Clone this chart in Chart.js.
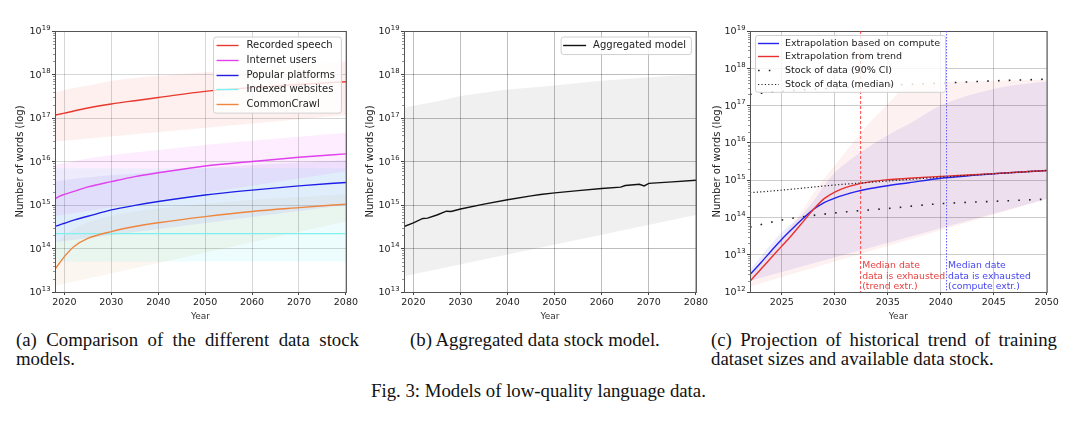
<!DOCTYPE html>
<html>
<head>
<meta charset="utf-8">
<script src="https://cdn.jsdelivr.net/npm/chart.js@4.4.1/dist/chart.umd.min.js"></script>
<style>
  body { margin: 0; width: 1080px; height: 432px; position: relative; background: #fff; overflow: hidden; }
  canvas { position: absolute; top: 0; }
  .cap { position: absolute; font-family: "Liberation Serif", "Times New Roman", serif; font-size: 18.8px; line-height: 18.5px; color: #111; white-space: nowrap; }
  .just { text-align: justify; text-align-last: justify; }
</style>
</head>
<body>
<canvas id="chartA" width="360" height="325" style="left:0"></canvas>
<canvas id="chartB" width="350" height="325" style="left:360px"></canvas>
<canvas id="chartC" width="370" height="325" style="left:710px"></canvas>

<div class="cap just" style="left:16px; top:331px; width:343px">(a) Comparison of the different data stock</div>
<div class="cap" style="left:16px; top:349.5px">models.</div>
<div class="cap" style="left:410px; top:331px">(b) Aggregated data stock model.</div>
<div class="cap just" style="left:711px; top:331px; width:346px">(c) Projection of historical trend of training</div>
<div class="cap" style="left:711px; top:349.5px">dataset sizes and available data stock.</div>
<div class="cap" style="left:371px; top:382px">Fig. 3: Models of low-quality language data.</div>

<script>
// ---- (a) comparison of data stock models ----
const yearsA = [2018, 2019, 2020, 2022, 2025, 2030, 2035, 2040, 2050, 2060, 2070, 2080];
const speechMid = [1.17e17, 1.23e17, 1.29e17, 1.45e17, 1.7e17, 2.1e17, 2.5e17, 2.95e17, 4.1e17, 5.0e17, 5.9e17, 6.8e17];
const speechLow = [2.9e16, 3.1e16, 3.3e16, 3.7e16, 4.4e16, 5.2e16, 6.0e16, 6.9e16, 8.5e16, 9.8e16, 1.07e17, 1.17e17];
const speechHigh = [3.8e17, 4.1e17, 4.4e17, 4.9e17, 5.6e17, 7.1e17, 8.3e17, 9.3e17, 1.12e18, 1.35e18, 1.66e18, 2.0e18];
const usersMid = [1.4e15, 1.6e15, 1.75e15, 2.05e15, 2.6e15, 3.45e15, 4.5e15, 5.5e15, 7.9e15, 1.0e16, 1.25e16, 1.5e16];
const usersLow = [5.6e14, 6.3e14, 7e14, 8.2e14, 1.03e15, 1.4e15, 1.8e15, 2.2e15, 3.1e15, 4e15, 5e15, 6e15];
const usersHigh = [8.5e15, 8.9e15, 9.3e15, 1.02e16, 1.17e16, 1.4e16, 1.6e16, 1.85e16, 2.4e16, 3.0e16, 3.7e16, 4.6e16];
const platformsMid = [3.2e14, 3.5e14, 3.8e14, 4.5e14, 5.5e14, 7.7e14, 9.8e14, 1.2e15, 1.7e15, 2.2e15, 2.75e15, 3.3e15];
const platformsLow = [1.4e14, 1.6e14, 1.8e14, 2.1e14, 2.6e14, 3.5e14, 4.5e14, 5.2e14, 6.8e14, 7.9e14, 9.1e14, 1.0e15];
const platformsHigh = [3.5e15, 3.6e15, 3.7e15, 4e15, 4.3e15, 4.8e15, 5.2e15, 5.9e15, 7.1e15, 8.3e15, 9.5e15, 1.07e16];
const indexedMid = [2.2e14, 2.2e14, 2.2e14, 2.2e14, 2.2e14, 2.2e14, 2.2e14, 2.2e14, 2.2e14, 2.2e14, 2.2e14, 2.2e14];
const indexedLow = [5e13, 5e13, 5e13, 5e13, 5e13, 5e13, 5e13, 5e13, 5e13, 5e13, 5e13, 5e13];
const indexedHigh = [7e15, 7e15, 7e15, 7e15, 7e15, 7e15, 7e15, 7e15, 7e15, 7e15, 7e15, 7e15];
const crawlMid = [3.3e13, 4.7e13, 6.5e13, 1.1e14, 1.7e14, 2.45e14, 3.2e14, 3.9e14, 5.4e14, 7.1e14, 8.7e14, 1.05e15];
const crawlLow = [1.4e13, 1.8e13, 2.4e13, 4e13, 6.3e13, 1e14, 1.26e14, 1.6e14, 2.2e14, 3e14, 3.5e14, 4.2e14];
const crawlHigh = [1.26e14, 1.6e14, 2e14, 2.8e14, 4e14, 5.6e14, 7.1e14, 8.3e14, 1.07e15, 1.3e15, 1.5e15, 1.8e15];

// ---- (b) aggregated model ----
const yearsB = [2018, 2020, 2022, 2023, 2025, 2027, 2028, 2030, 2035, 2040, 2045, 2047, 2050, 2055, 2060, 2064, 2065, 2068, 2069, 2070, 2075, 2080];
const aggMid = [3.2e14, 3.9e14, 4.9e14, 5.0e14, 5.9e14, 7.2e14, 7.1e14, 8.1e14, 1.05e15, 1.32e15, 1.62e15, 1.74e15, 1.9e15, 2.14e15, 2.4e15, 2.57e15, 2.8e15, 3.0e15, 2.75e15, 3.15e15, 3.4e15, 3.7e15];
const bandYearsB = [2018, 2020, 2022, 2025, 2030, 2035, 2040, 2050, 2060, 2070, 2080];
const aggLow = [2.3e13, 3.8e13, 5.9e13, 8.3e13, 1.4e14, 2.0e14, 2.4e14, 3.2e14, 4.2e14, 4.9e14, 5.9e14];
const aggHigh = [1.7e17, 1.9e17, 2.1e17, 2.4e17, 3.2e17, 3.8e17, 4.5e17, 5.6e17, 7.2e17, 8.7e17, 1.0e18];

// ---- (c) projection vs stock ----
const yearsC = [2022, 2023, 2024, 2025, 2026, 2027, 2028, 2029, 2030, 2031, 2032, 2033, 2035, 2037, 2040, 2045, 2050];
const computeMid = [2.95e12, 6e12, 1.26e13, 2.6e13, 5e13, 9.3e13, 1.66e14, 2.5e14, 3.3e14, 4.1e14, 4.9e14, 5.7e14, 7.1e14, 8.5e14, 1.12e15, 1.48e15, 1.82e15];
const trendMid = [1.95e12, 4e12, 8.3e12, 1.7e13, 3.5e13, 7.6e13, 1.66e14, 3.2e14, 4.8e14, 6.3e14, 7.6e14, 8.7e14, 1.03e15, 1.12e15, 1.26e15, 1.5e15, 1.82e15];
const bandYearsC = [2022, 2025, 2027, 2028, 2029, 2030, 2031, 2032, 2033, 2035, 2037, 2040, 2045, 2050];
const trendLow = [1.4e12, 1.1e13, 5e13, 1e14, 1.4e14, 1.6e14, 1.6e14, 1.6e14, 1.6e14, 1.74e14, 2e14, 2.34e14, 2.7e14, 3.1e14];
const trendHigh = [2.8e12, 2.8e13, 1.6e14, 4.5e14, 1.1e15, 2.5e15, 5.6e15, 1.26e16, 2.8e16, 1.1e17, 3.5e17, 4.2e17, 4.6e17, 5.0e17];
const computeLow = [2e12, 1.6e13, 4e13, 5.6e13, 6.3e13, 6.6e13, 7.1e13, 8.3e13, 1.12e14, 1.74e14, 2e14, 2.34e14, 2.7e14, 3.1e14];
const computeHigh = [4e12, 4e13, 1.26e14, 2.8e14, 7.1e14, 1.6e15, 2.8e15, 4.5e15, 7.1e15, 1.6e16, 3.2e16, 1e17, 2.8e17, 4.4e17];
const stockYears = [2022, 2025, 2030, 2035, 2040, 2045, 2050];
const stockMid = [4.6e14, 5.4e14, 7.4e14, 9.5e14, 1.2e15, 1.48e15, 1.82e15];
const stockLow = [5.5e13, 8.5e13, 1.32e14, 1.74e14, 2.34e14, 2.7e14, 3.1e14];
const stockHigh = [2e17, 2.4e17, 2.95e17, 3.5e17, 4e17, 4.6e17, 5.1e17];
const exhaustYears = [2032.44, 2040.55];
const trendNote = ['Median date', 'data is exhausted', '(trend extr.)'];
const computeNote = ['Median date', 'data is exhausted', '(compute extr.)'];

// ---- tick labels ----
const xTicksAB = [2020, 2030, 2040, 2050, 2060, 2070, 2080];
const xTicksC = [2025, 2030, 2035, 2040, 2045, 2050];
const yTicksAB = [1e13, 1e14, 1e15, 1e16, 1e17, 1e18, 1e19];
const yTicksC = [1e12, 1e13, 1e14, 1e15, 1e16, 1e17, 1e18, 1e19];

Chart.defaults.font.family = '"DejaVu Sans", sans-serif';
Chart.defaults.color = '#222';

const pts = (xs, ys) => xs.map((x, i) => ({ x: x, y: ys[i] }));

function line(xs, ys, color, extra) {
    return Object.assign({
        data: pts(xs, ys),
        borderColor: color,
        borderWidth: 1.4,
        pointRadius: 0,
        fill: false,
        cubicInterpolationMode: 'monotone',
    }, extra || {});
}

// lower edge + upper edge filled down to it
function band(xs, lo, hi, color) {
    return [
        { data: pts(xs, lo), borderColor: 'transparent', borderWidth: 0, pointRadius: 0, fill: false, cubicInterpolationMode: 'monotone' },
        { data: pts(xs, hi), borderColor: 'transparent', borderWidth: 0, pointRadius: 0, fill: '-1', backgroundColor: color, cubicInterpolationMode: 'monotone' },
    ];
}

// matplotlib-like frame, minor ticks and 10^n labels on the log axis
const framePlugin = {
    id: 'frame',
    afterDatasetsDraw(chart) {
        const { ctx, chartArea: a, scales: { y } } = chart;
        ctx.save();
        ctx.strokeStyle = '#555';
        ctx.lineWidth = 1;
        ctx.strokeRect(a.left + 0.5, a.top + 0.5, a.right - a.left, a.bottom - a.top);
        ctx.strokeStyle = '#666';
        ctx.lineWidth = 0.7;
        const e0 = Math.round(Math.log10(y.min)), e1 = Math.round(Math.log10(y.max));
        for (let e = e0; e < e1; e++) {
            for (let m = 2; m <= 9; m++) {
                const py = Math.round(y.getPixelForValue(m * Math.pow(10, e))) + 0.5;
                ctx.beginPath();
                ctx.moveTo(a.left - 2, py);
                ctx.lineTo(a.left, py);
                ctx.stroke();
            }
        }
        ctx.fillStyle = '#222';
        ctx.textBaseline = 'middle';
        for (let e = e0; e <= e1; e++) {
            const py = y.getPixelForValue(Math.pow(10, e));
            const exp = String(e);
            ctx.font = '6.8px "DejaVu Sans"';
            const wExp = ctx.measureText(exp).width;
            ctx.fillText(exp, a.left - 4.5 - wExp, py - 3.2);
            ctx.font = '9.5px "DejaVu Sans"';
            const wBase = ctx.measureText('10').width;
            ctx.fillText('10', a.left - 4.5 - wExp - wBase - 0.3, py + 0.8);
        }
        ctx.restore();
    },
};

// legend box drawn inside the plot, like matplotlib (config kept out of Chart options)
function boxLegend(o) {
    return {
        id: 'boxLegend',
        afterDraw(chart) {
            const { ctx, chartArea: a } = chart;
            ctx.save();
            ctx.font = o.fontSize + 'px "DejaVu Sans"';
            const textW = Math.max(...o.items.map(i => ctx.measureText(i.label).width));
            const w = o.padL + o.sample + o.gap + textW + o.padR;
            const h = o.items.length * o.rowH + 2 * o.padY;
            const x = o.side === 'right' ? a.right - o.margin - w : a.left + o.margin;
            const y = a.top + o.marginTop;
            ctx.beginPath();
            ctx.roundRect(x + 0.5, y + 0.5, w, h, 2.5);
            ctx.fillStyle = 'rgba(255,255,255,0.82)';
            ctx.fill();
            ctx.strokeStyle = '#d0d0d0';
            ctx.lineWidth = 1;
            ctx.stroke();
            ctx.textBaseline = 'middle';
            o.items.forEach((it, i) => {
                const yy = Math.round(y + o.padY + o.rowH * (i + 0.5)) + 0.5;
                ctx.strokeStyle = it.color;
                ctx.lineWidth = it.width || 1.4;
                ctx.setLineDash(it.dash || []);
                ctx.beginPath();
                ctx.moveTo(x + o.padL, yy);
                ctx.lineTo(x + o.padL + o.sample, yy);
                ctx.stroke();
                ctx.setLineDash([]);
                ctx.fillStyle = '#222';
                ctx.fillText(it.label, x + o.padL + o.sample + o.gap, yy);
            });
            ctx.restore();
        },
    };
}

// vertical "data exhausted" markers with notes
function exhaustPlugin(marks) {
    return {
        id: 'exhaust',
        afterDraw(chart) {
            const { ctx, chartArea: a, scales: { x } } = chart;
            marks.forEach(m => {
                const px = x.getPixelForValue(m.year);
                ctx.save();
                ctx.globalAlpha = 1;
                ctx.globalCompositeOperation = 'source-over';
                ctx.strokeStyle = m.stroke;
                ctx.lineWidth = 1;
                ctx.setLineDash(m.dash);
                ctx.beginPath();
                ctx.moveTo(px, a.top);
                ctx.lineTo(px, a.bottom);
                ctx.stroke();
                ctx.setLineDash([]);
                ctx.fillStyle = m.text;
                ctx.font = '9.3px "DejaVu Sans"';
                ctx.textBaseline = 'middle';
                m.lines.forEach((t, i) => ctx.fillText(t, px + 1.5, a.bottom - 26 + i * 10.4));
                ctx.restore();
            });
        },
    };
}

function scales(cfg) {
    return {
        x: {
            type: 'linear',
            min: cfg.xMin,
            max: cfg.xMax,
            afterBuildTicks: s => { s.ticks = cfg.xTicks.map(v => ({ value: v })); },
            afterFit: s => { s.height = 33; },
            ticks: { callback: v => String(v), font: { size: 9.5 }, padding: 2, maxRotation: 0, color: '#222' },
            grid: { color: cfg.grid, tickColor: '#444', tickLength: 3 },
            border: { display: false },
            title: { display: true, text: 'Year', font: { size: 9 }, padding: { top: 0, bottom: 3 }, color: '#333' },
        },
        y: {
            type: 'logarithmic',
            min: cfg.yTicks[0],
            max: cfg.yTicks[cfg.yTicks.length - 1],
            afterBuildTicks: s => { s.ticks = cfg.yTicks.map(v => ({ value: v })); },
            afterFit: s => { s.width = cfg.yWidth; },
            ticks: { display: false },
            grid: { color: cfg.grid, tickColor: '#444', tickLength: 3 },
            border: { display: false },
            title: { display: true, text: 'Number of words (log)', font: { size: 10 }, padding: { top: cfg.titlePad, bottom: 2 }, color: '#222' },
        },
    };
}

function baseOptions(cfg) {
    return {
        responsive: false,
        animation: false,
        devicePixelRatio: 1,
        layout: { padding: cfg.padding },
        scales: scales(cfg),
        plugins: {
            legend: { display: false },
            tooltip: { enabled: false },
            filler: { drawTime: 'beforeDraw' },
        },
    };
}

// (a)
new Chart(document.getElementById('chartA'), {
    type: 'line',
    data: {
        datasets: [
            line(yearsA, platformsMid, '#1f1fe8'),
            line(yearsA, usersMid, '#e040ee'),
            line(yearsA, speechMid, '#e8392e'),
            line(yearsA, crawlMid, '#ee8640'),
            line(yearsA, indexedMid, '#7ef0f0'),
            ...band(yearsA, speechLow, speechHigh, 'rgba(240,60,50,0.08)'),
            ...band(yearsA, usersLow, usersHigh, 'rgba(230,60,240,0.09)'),
            ...band(yearsA, platformsLow, platformsHigh, 'rgba(40,40,240,0.07)'),
            ...band(yearsA, indexedLow, indexedHigh, 'rgba(0,230,230,0.07)'),
            ...band(yearsA, crawlLow, crawlHigh, 'rgba(200,140,60,0.08)'),
        ],
    },
    options: baseOptions({ xMin: 2018, xMax: 2080, xTicks: xTicksAB, yTicks: yTicksAB, yWidth: 55, titlePad: 14,
        grid: 'rgba(0,0,0,0.16)', padding: { left: 0, right: 13, top: 31, bottom: 0 } }),
    plugins: [framePlugin, boxLegend({ side: 'right', margin: 5, marginTop: 5.5, fontSize: 10, rowH: 14.75, padY: 1.2, padL: 3.5, padR: 6, sample: 22, gap: 8,
        items: [
            { label: 'Recorded speech', color: '#e8392e' },
            { label: 'Internet users', color: '#e040ee' },
            { label: 'Popular platforms', color: '#1f1fe8' },
            { label: 'Indexed websites', color: '#7ef0f0' },
            { label: 'CommonCrawl', color: '#ee8640' },
        ] })],
});

// (b)
new Chart(document.getElementById('chartB'), {
    type: 'line',
    data: {
        datasets: [
            line(yearsB, aggMid, '#111', { cubicInterpolationMode: 'default', tension: 0 }),
            ...band(bandYearsB, aggLow, aggHigh, 'rgba(0,0,0,0.06)'),
        ],
    },
    options: baseOptions({ xMin: 2018, xMax: 2080, xTicks: xTicksAB, yTicks: yTicksAB, yWidth: 44, titlePad: 4,
        grid: 'rgba(0,0,0,0.26)', padding: { left: 0, right: 14, top: 31, bottom: 0 } }),
    plugins: [framePlugin, boxLegend({ side: 'right', margin: 5, marginTop: 5.5, fontSize: 10, rowH: 14.75, padY: 1.4, padL: 2.5, padR: 5, sample: 23, gap: 7,
        items: [{ label: 'Aggregated model', color: '#111' }] })],
});

// (c)
new Chart(document.getElementById('chartC'), {
    type: 'line',
    data: {
        datasets: [
            line(stockYears, stockMid, '#222', { borderWidth: 1.2, borderDash: [1.2, 2.2] }),
            line(yearsC, trendMid, '#e83030'),
            line(yearsC, computeMid, '#2424f0'),
            line(stockYears, stockLow, '#222', { borderWidth: 1.6, borderDash: [1.6, 9.2] }),
            line(stockYears, stockHigh, '#222', { borderWidth: 1.6, borderDash: [1.6, 9.2] }),
            ...band(bandYearsC, trendLow, trendHigh, 'rgba(240,60,50,0.07)'),
            ...band(bandYearsC, computeLow, computeHigh, 'rgba(60,40,220,0.09)'),
        ],
    },
    options: baseOptions({ xMin: 2022, xMax: 2050, xTicks: xTicksC, yTicks: yTicksC, yWidth: 40, titlePad: 1.5,
        grid: 'rgba(0,0,0,0.2)', padding: { left: 0, right: 33.3, top: 31, bottom: 0 } }),
    plugins: [
        framePlugin,
        exhaustPlugin([
            { year: exhaustYears[0], stroke: 'rgb(255,70,70)', dash: [3, 2], text: '#e84040', lines: trendNote },
            { year: exhaustYears[1], stroke: 'rgb(90,90,255)', dash: [1.5, 1.5], text: '#4646f0', lines: computeNote },
        ]),
        boxLegend({ side: 'left', margin: 5, marginTop: 4, fontSize: 9.5, rowH: 13.9, padY: 0.6, padL: 3, padR: 5, sample: 21, gap: 6,
            items: [
                { label: 'Extrapolation based on compute', color: '#2424f0' },
                { label: 'Extrapolation from trend', color: '#e83030' },
                { label: 'Stock of data (90% CI)', color: '#222', width: 1.6, dash: [1.6, 9.2] },
                { label: 'Stock of data (median)', color: '#222', width: 1.2, dash: [1.2, 2.2] },
            ] }),
    ],
});
</script>
</body>
</html>
